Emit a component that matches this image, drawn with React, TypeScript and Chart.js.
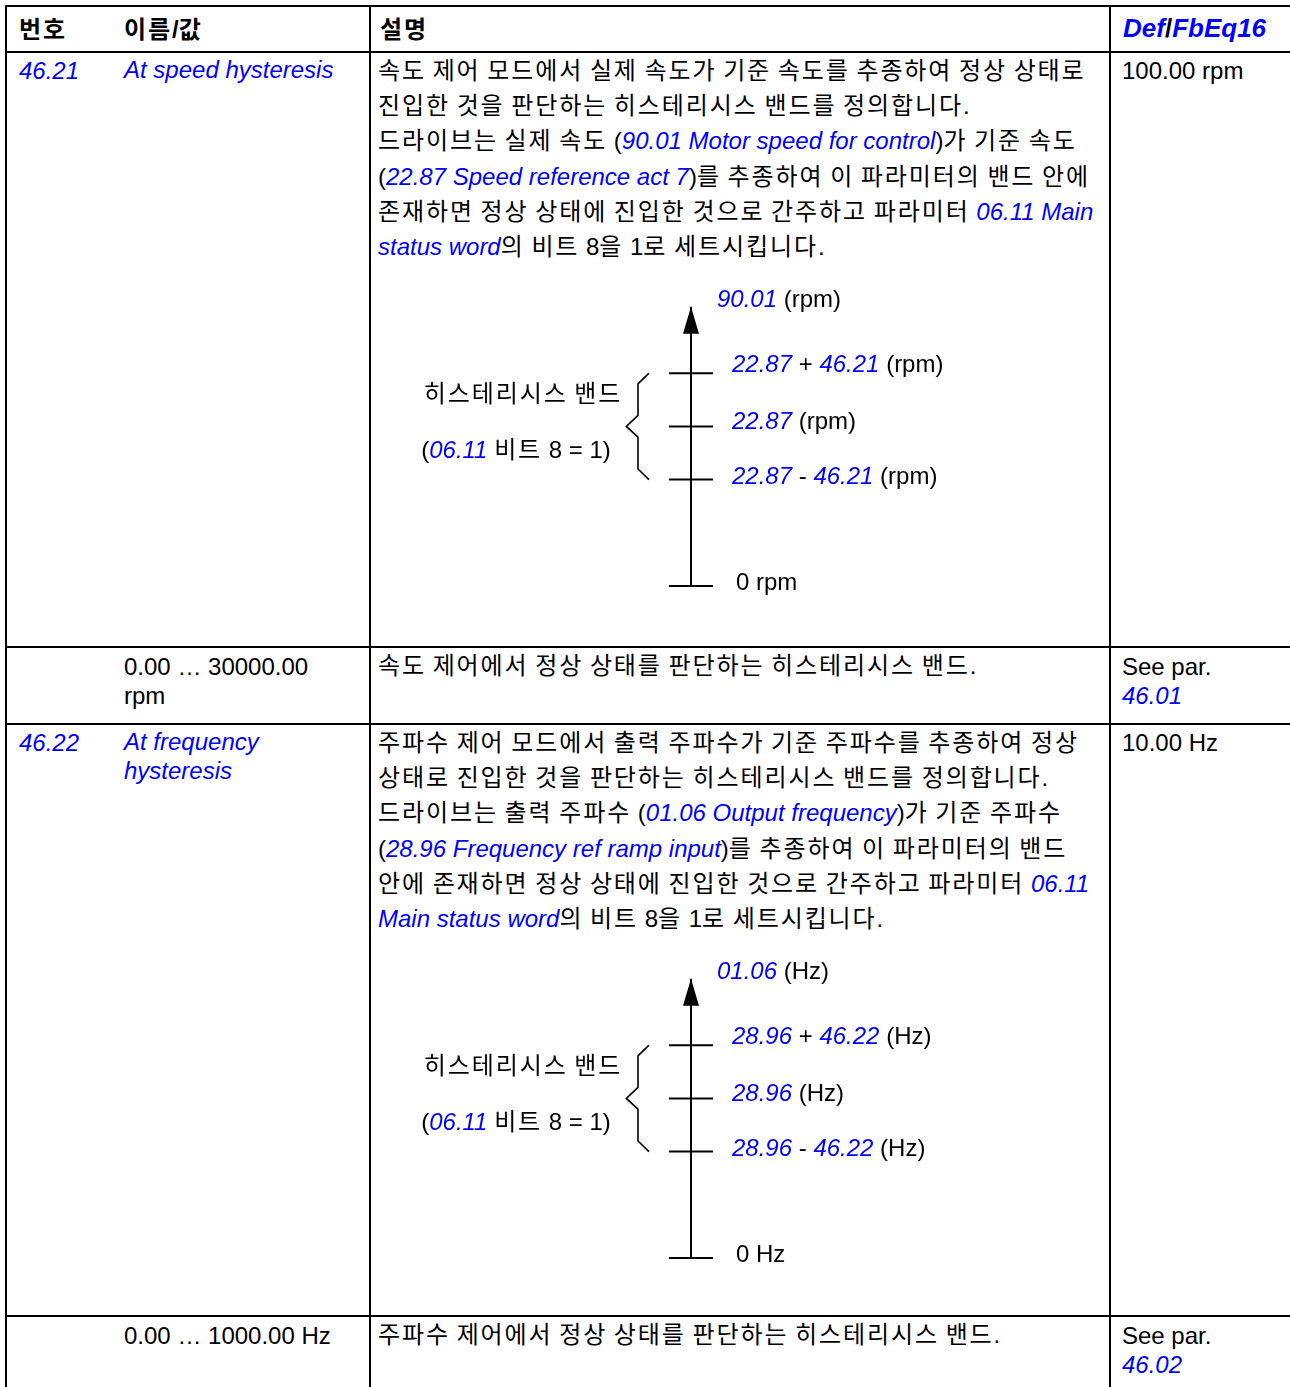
import React, { useEffect, useRef } from "react";
import { Chart, registerables } from "chart.js";

Chart.register(...registerables);

// ---------------- data ----------------
const headerTitles = ["번호", "이름/값", "설명"];
const headerDefault = "*Def*/*FbEq16*";

const paramIds = ["46.21", "46.22"];
const paramNames = [["At speed hysteresis"], ["At frequency", "hysteresis"]];
const paramDefaults = ["100.00 rpm", "10.00 Hz"];
const paramDescriptions = [
  [
    "속도 제어 모드에서 실제 속도가 기준 속도를 추종하여 정상 상태로",
    "진입한 것을 판단하는 히스테리시스 밴드를 정의합니다.",
    "드라이브는 실제 속도 (*90.01 Motor speed for control*)가 기준 속도",
    "(*22.87 Speed reference act 7*)를 추종하여 이 파라미터의 밴드 안에",
    "존재하면 정상 상태에 진입한 것으로 간주하고 파라미터 *06.11 Main*",
    "*status word*의 비트 8을 1로 세트시킵니다.",
  ],
  [
    "주파수 제어 모드에서 출력 주파수가 기준 주파수를 추종하여 정상",
    "상태로 진입한 것을 판단하는 히스테리시스 밴드를 정의합니다.",
    "드라이브는 출력 주파수 (*01.06 Output frequency*)가 기준 주파수",
    "(*28.96 Frequency ref ramp input*)를 추종하여 이 파라미터의 밴드",
    "안에 존재하면 정상 상태에 진입한 것으로 간주하고 파라미터 *06.11*",
    "*Main status word*의 비트 8을 1로 세트시킵니다.",
  ],
];
const valueRanges = [["0.00 … 30000.00", "rpm"], ["0.00 … 1000.00 Hz"]];
const valueRangeDescriptions = [
  "속도 제어에서 정상 상태를 판단하는 히스테리시스 밴드.",
  "주파수 제어에서 정상 상태를 판단하는 히스테리시스 밴드.",
];
const valueRangeDefaults = [["See par.", "*46.01*"], ["See par.", "*46.02*"]];

// diagram 1 (speed, rpm): 0, reference - hysteresis, reference, reference + hysteresis
const speedTickValues = [0, 200, 300, 400];
const speedAxisTop = 525;
const speedAxisLabel = "*90.01* (rpm)";
const speedTickLabels = ["0 rpm", "*22.87* - *46.21* (rpm)", "*22.87* (rpm)", "*22.87* + *46.21* (rpm)"];

// diagram 2 (frequency, Hz)
const freqTickValues = [0, 20, 30, 40];
const freqAxisTop = 52.5;
const freqAxisLabel = "*01.06* (Hz)";
const freqTickLabels = ["0 Hz", "*28.96* - *46.22* (Hz)", "*28.96* (Hz)", "*28.96* + *46.22* (Hz)"];

const bandLabels = ["히스테리시스 밴드", "(*06.11* 비트 8 = 1)"];

// ---------------- styles / layout ----------------
const BLUE = "#0000ff";
const FAMILY = '"Liberation Sans", "Noto Sans CJK KR", sans-serif';
const FS = 24;
const LH = 35.4;
const LH_S = 28.5;
const HANGUL_LS = 1.9;
const HANGUL_RE = /([\uAC00-\uD7A3]+)/;
const PARAM_ROW_TOPS = [52, 724];
const RANGE_ROW_TOPS = [647, 1316];
const COL_X = { id: 19, name: 124, desc: 378, def: 1122 };
const DIAGRAM = { left: 371, width: 640, height: 370, offset: 210, padTop: 44.7, padBottom: 46 };
const TICK_LABEL_DY = [-4.3, -4.4, -6, -9.4];

function Plain({ text }: { text: string }) {
  const parts = text.split(HANGUL_RE);
  return (
    <>
      {parts.map((p, i) =>
        i % 2 ? (
          <span key={i} style={{ letterSpacing: HANGUL_LS }}>
            {p}
          </span>
        ) : (
          <span key={i}>{p}</span>
        )
      )}
    </>
  );
}

function Rich({ text }: { text: string }) {
  const parts = text.split("*");
  return (
    <>
      {parts.map((p, i) =>
        i % 2 ? (
          <i key={i} style={{ color: BLUE }}>
            {p}
          </i>
        ) : (
          <Plain key={i} text={p} />
        )
      )}
    </>
  );
}

function Block({
  left,
  top,
  lines,
  lh = LH,
  bold = false,
  size = FS,
}: {
  left: number;
  top: number;
  lines: string[];
  lh?: number;
  bold?: boolean;
  size?: number;
}) {
  return (
    <div
      style={{
        position: "absolute",
        left,
        top,
        whiteSpace: "pre",
        fontWeight: bold ? "bold" : "normal",
        fontSize: size,
      }}
    >
      {lines.map((l, i) => (
        <div key={i} style={{ height: lh, lineHeight: `${lh}px` }}>
          <Rich text={l} />
        </div>
      ))}
    </div>
  );
}

type Run = { text: string; font: string; color: string; hangul: boolean };

function toRuns(text: string): Run[] {
  const runs: Run[] = [];
  text.split("*").forEach((p, i) => {
    if (i % 2) {
      runs.push({ text: p, font: `italic ${FS}px ${FAMILY}`, color: BLUE, hangul: false });
    } else {
      p.split(HANGUL_RE).forEach((q, j) => {
        if (q) runs.push({ text: q, font: `${FS}px ${FAMILY}`, color: "#000", hangul: j % 2 === 1 });
      });
    }
  });
  return runs;
}

function drawRich(ctx: CanvasRenderingContext2D, text: string, x: number, centerY: number, align: "left" | "center") {
  const runs = toRuns(text);
  const widthOf = (r: Run) => {
    ctx.font = r.font;
    if (!r.hangul) return ctx.measureText(r.text).width;
    let w = 0;
    for (const ch of r.text) w += ctx.measureText(ch).width + HANGUL_LS;
    return w;
  };
  const total = runs.reduce((s, r) => s + widthOf(r), 0);
  let cx = align === "center" ? x - total / 2 : x;
  const baseY = centerY + 8.6;
  ctx.textBaseline = "alphabetic";
  ctx.textAlign = "left";
  runs.forEach((r) => {
    ctx.font = r.font;
    ctx.fillStyle = r.color;
    if (r.hangul) {
      for (const ch of r.text) {
        ctx.fillText(ch, cx, baseY);
        cx += ctx.measureText(ch).width + HANGUL_LS;
      }
    } else {
      ctx.fillText(r.text, cx, baseY);
      cx += ctx.measureText(r.text).width;
    }
  });
}

function Diagram({
  top,
  tickValues,
  axisTop,
  axisLabel,
  tickLabels,
}: {
  top: number;
  tickValues: number[];
  axisTop: number;
  axisLabel: string;
  tickLabels: string[];
}) {
  const ref = useRef<HTMLCanvasElement>(null);
  useEffect(() => {
    const canvas = ref.current;
    if (!canvas) return;
    const overlay = {
      id: "hystOverlay",
      afterDatasetsDraw(chart: any) {
        const ctx: CanvasRenderingContext2D = chart.ctx;
        const xs = chart.scales.x;
        const ys = chart.scales.y;
        const ax = xs.getPixelForValue(0);
        const tip = ys.getPixelForValue(axisTop);
        ctx.save();
        // arrow head
        ctx.fillStyle = "#000";
        ctx.beginPath();
        ctx.moveTo(ax, tip);
        ctx.lineTo(ax - 8, tip + 27);
        ctx.lineTo(ax + 8, tip + 27);
        ctx.closePath();
        ctx.fill();
        // hysteresis bracket
        const yL = ys.getPixelForValue(tickValues[1]);
        const yR = ys.getPixelForValue(tickValues[2]);
        const yH = ys.getPixelForValue(tickValues[3]);
        ctx.strokeStyle = "#000";
        ctx.lineWidth = 1.6;
        ctx.lineJoin = "miter";
        ctx.beginPath();
        ctx.moveTo(ax - 42, yH);
        ctx.lineTo(ax - 53, yH + 10.6);
        ctx.lineTo(ax - 53, yR - 11);
        ctx.lineTo(ax - 64.7, yR);
        ctx.lineTo(ax - 53, yR + 10.7);
        ctx.lineTo(ax - 53, yL - 10.6);
        ctx.lineTo(ax - 42, yL);
        ctx.stroke();
        // labels
        drawRich(ctx, axisLabel, ax + 26, tip - 8.7, "left");
        tickLabels.forEach((l, i) => {
          drawRich(ctx, l, ax + (i === 0 ? 45 : 41), ys.getPixelForValue(tickValues[i]) + TICK_LABEL_DY[i], "left");
        });
        drawRich(ctx, bandLabels[0], ax - 168, yR - 33.2, "center");
        drawRich(ctx, bandLabels[1], ax - 175, yR + 22.5, "center");
        ctx.restore();
      },
    };
    const chart = new Chart(canvas, {
      type: "scatter",
      data: {
        datasets: [
          {
            data: [
              { x: 0, y: 0 },
              { x: 0, y: axisTop },
            ],
            showLine: true,
            borderColor: "#000",
            borderWidth: 2,
            pointRadius: 0,
            clip: false as any,
          },
          {
            data: tickValues.map((v) => ({ x: 0, y: v })),
            showLine: false,
            pointStyle: "line",
            pointRadius: 22,
            pointHoverRadius: 22,
            pointBorderWidth: 2,
            pointBorderColor: "#000",
            borderColor: "#000",
            clip: false as any,
          },
        ],
      },
      options: {
        animation: false,
        responsive: false,
        devicePixelRatio: 1,
        events: [],
        layout: { padding: { top: DIAGRAM.padTop, bottom: DIAGRAM.padBottom, left: 0, right: 0 } },
        scales: {
          x: { type: "linear", min: -1, max: 1, display: false },
          y: { type: "linear", min: 0, max: axisTop, display: false },
        },
        plugins: { legend: { display: false }, tooltip: { enabled: false }, title: { display: false } },
      },
      plugins: [overlay],
    });
    return () => chart.destroy();
  }, []);
  return (
    <canvas
      ref={ref}
      width={DIAGRAM.width}
      height={DIAGRAM.height}
      style={{ position: "absolute", left: DIAGRAM.left, top, width: DIAGRAM.width, height: DIAGRAM.height }}
    />
  );
}

function HLine({ y }: { y: number }) {
  return <div style={{ position: "absolute", left: 5, top: y, width: 1285, height: 2, background: "#000" }} />;
}
function VLine({ x }: { x: number }) {
  return <div style={{ position: "absolute", left: x, top: 5, width: 2, height: 1382, background: "#000" }} />;
}

export default function App() {
  const diagrams = [
    { tickValues: speedTickValues, axisTop: speedAxisTop, axisLabel: speedAxisLabel, tickLabels: speedTickLabels },
    { tickValues: freqTickValues, axisTop: freqAxisTop, axisLabel: freqAxisLabel, tickLabels: freqTickLabels },
  ];
  return (
    <div
      style={{
        position: "absolute",
        left: 0,
        top: 0,
        width: 1290,
        height: 1387,
        overflow: "hidden",
        background: "#fff",
        color: "#000",
        fontFamily: FAMILY,
        fontSize: FS,
      }}
    >
      {/* grid lines */}
      <HLine y={5} />
      <HLine y={51} />
      <HLine y={646} />
      <HLine y={723} />
      <HLine y={1315} />
      <VLine x={5} />
      <VLine x={369} />
      <VLine x={1109} />

      {/* header */}
      <Block left={COL_X.id} top={30 - LH / 2} lines={[headerTitles[0]]} bold />
      <Block left={COL_X.name} top={30 - LH / 2} lines={[headerTitles[1]]} bold />
      <Block left={COL_X.desc + 2} top={30 - LH / 2} lines={[headerTitles[2]]} bold />
      <Block left={COL_X.def + 1} top={29 - LH / 2} lines={[headerDefault]} bold size={26} />

      {paramIds.map((id, k) => {
        const rt = PARAM_ROW_TOPS[k];
        return (
          <React.Fragment key={id}>
            <Block left={COL_X.id} top={rt + 1.3} lines={[`*${id}*`]} />
            <Block left={COL_X.name} top={rt + 4} lh={LH_S} lines={paramNames[k].map((s) => `*${s}*`)} />
            <Block left={COL_X.desc} top={rt + 0.5} lines={paramDescriptions[k]} />
            <Block left={COL_X.def} top={rt + 1.3} lines={[paramDefaults[k]]} />
            <Diagram top={rt + DIAGRAM.offset} {...diagrams[k]} />
          </React.Fragment>
        );
      })}

      {valueRanges.map((vr, k) => {
        const rt = RANGE_ROW_TOPS[k];
        return (
          <React.Fragment key={k}>
            <Block left={COL_X.name} top={rt + 6} lh={LH_S} lines={vr} />
            <Block left={COL_X.desc} top={rt + 1.3} lines={[valueRangeDescriptions[k]]} />
            <Block left={COL_X.def} top={rt + 6} lh={LH_S} lines={valueRangeDefaults[k]} />
          </React.Fragment>
        );
      })}
    </div>
  );
}
